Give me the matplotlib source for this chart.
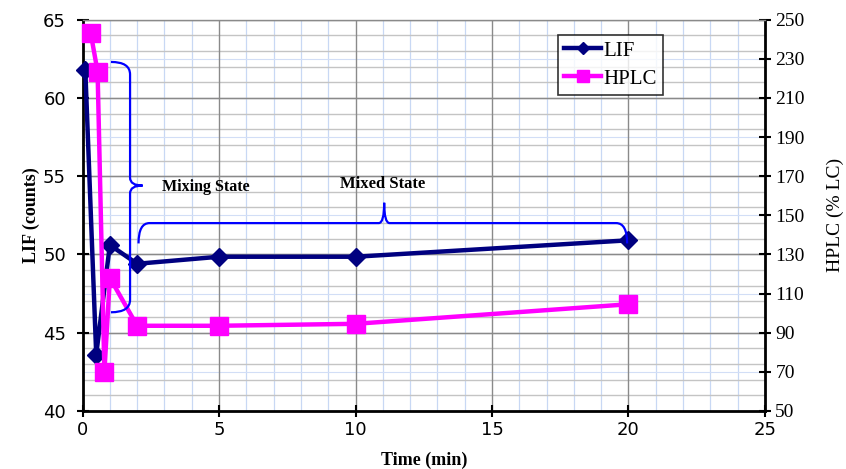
import numpy as np
import matplotlib
matplotlib.use('Agg')
import matplotlib.pyplot as plt
from matplotlib.path import Path
from matplotlib.patches import PathPatch

# data
lif_time = [0.1, 0.5, 1.0, 2.0, 5.0, 10.0, 20.0]
lif_counts = [61.8, 43.6, 50.6, 49.4, 49.85, 49.85, 50.9]
hplc_time = [0.3, 0.55, 0.8, 1.0, 2.0, 5.0, 10.0, 20.0]
hplc_lc = [243.0, 223.5, 70.0, 118.0, 93.5, 93.5, 94.5, 104.5]

x_ticks = [0, 5, 10, 15, 20, 25]
left_ticks = [40, 45, 50, 55, 60, 65]
right_ticks = list(range(50, 251, 20))

serif = 'Liberation Serif'
sans = 'DejaVu Sans'

fig = plt.figure(figsize=(8.46, 4.69), dpi=100)
ax = fig.add_axes([0.0976, 0.124, 0.8066, 0.834])
ax2 = ax.twinx()

ax.set_xlim(0, 25)
ax.set_ylim(40, 65)
ax2.set_ylim(50, 250)

# grid, all on the left axis so the lines sit under the series
for x in np.arange(1, 25, 1):
    if x % 5:
        ax.axvline(x, color='#c8d8f4', lw=0.9, zorder=0)
for x in x_ticks[1:-1]:
    ax.axvline(x, color='#8a8a8a', lw=1.0, zorder=0.5)
for y in np.arange(41, 65, 1):
    ax.axhline(y, color='#c4c4c4', lw=1.0, zorder=0.2)
for y in left_ticks[1:]:
    ax.axhline(y, color='#8a8a8a', lw=1.0, zorder=0.5)
for v in right_ticks[1:-1]:
    ax.axhline(40 + (v - 50) / 8.0, color='#d2def6', lw=0.8, zorder=0.1)

ax.set_xticks(x_ticks)
ax.set_yticks(left_ticks)
ax2.set_yticks(right_ticks)
ax.tick_params(axis='both', direction='inout', length=8, width=1.5, labelsize=13)
ax.tick_params(axis='y', pad=8)
ax2.tick_params(axis='y', direction='inout', length=8, width=1.5, labelsize=13)
for lab in ax.get_xticklabels() + ax.get_yticklabels():
    lab.set_fontfamily(sans)
for lab in ax2.get_yticklabels():
    lab.set_fontfamily(serif)
    lab.set_fontsize(14)

for s in ['left', 'bottom']:
    ax.spines[s].set_linewidth(2)
ax2.spines['right'].set_linewidth(2)
ax2.spines['left'].set_visible(False)
ax2.spines['bottom'].set_visible(False)
ax.spines['top'].set_visible(False)
ax2.spines['top'].set_color('#8a8a8a')
ax2.spines['top'].set_linewidth(1)
ax.spines['right'].set_visible(False)

ax.set_xlabel('Time (min)', fontfamily=serif, fontweight='bold', fontsize=13, labelpad=9)
ax.set_ylabel('LIF (counts)', fontfamily=serif, fontweight='bold', fontsize=13, labelpad=2)
ax2.set_ylabel('HPLC (% LC)', fontfamily=serif, fontsize=14, labelpad=16)

l1, = ax.plot(lif_time, lif_counts, color='#000080', lw=3.2, marker='D',
              markersize=9, clip_on=False, zorder=3, label='LIF')
l2, = ax2.plot(hplc_time, hplc_lc, color='#ff00ff', lw=3.2, marker='s',
               markersize=13, clip_on=False, zorder=3, label='HPLC')

M, L, C = Path.MOVETO, Path.LINETO, Path.CURVE3
codes = [M, C, C, L, C, C, M, C, C, L, C, C]

def brace(pts):
    p = PathPatch(Path(pts, codes), fill=False, edgecolor='#0000ff', lw=1.6,
                  zorder=6, transform=ax.transData)
    ax2.add_patch(p)

# vertical brace: mixing state
xl, xe, xt = 1.74, 1.04, 2.2
yt, yb, ym = 62.3, 46.3, 54.4
brace([(xe, yt), (xl, yt), (xl, yt - 0.8), (xl, ym + 0.5), (xl, ym), (xt, ym),
       (xt, ym), (xl, ym), (xl, ym - 0.5), (xl, yb + 0.8), (xl, yb), (xe, yb)])

# horizontal brace: mixed state
xa, xb, xm = 2.05, 19.95, 11.05
ylo, yln, ytp = 50.7, 52.0, 53.3
brace([(xa, ylo), (xa, yln), (xa + 0.4, yln), (xm - 0.2, yln), (xm, yln), (xm, ytp),
       (xm, ytp), (xm, yln), (xm + 0.2, yln), (xb - 0.4, yln), (xb, yln), (xb, ylo)])

ax.text(2.9, 54.3, 'Mixing State', fontfamily=serif, fontweight='bold', fontsize=11.5,
        ha='left', va='center', zorder=7)
ax.text(11.0, 54.5, 'Mixed State', fontfamily=serif, fontweight='bold', fontsize=12,
        ha='center', va='center', zorder=7)

leg = ax2.legend([l1, l2], ['LIF', 'HPLC'], loc='upper right', bbox_to_anchor=(0.866, 0.988),
                 prop={'family': serif, 'size': 15}, frameon=True, fancybox=False,
                 edgecolor='black', handlelength=1.8, handletextpad=0.1,
                 borderpad=0.3, labelspacing=0.4, markerscale=0.7)
leg.get_frame().set_linewidth(1.2)
leg.set_zorder(10)

fig.savefig('out.png', dpi=100)
